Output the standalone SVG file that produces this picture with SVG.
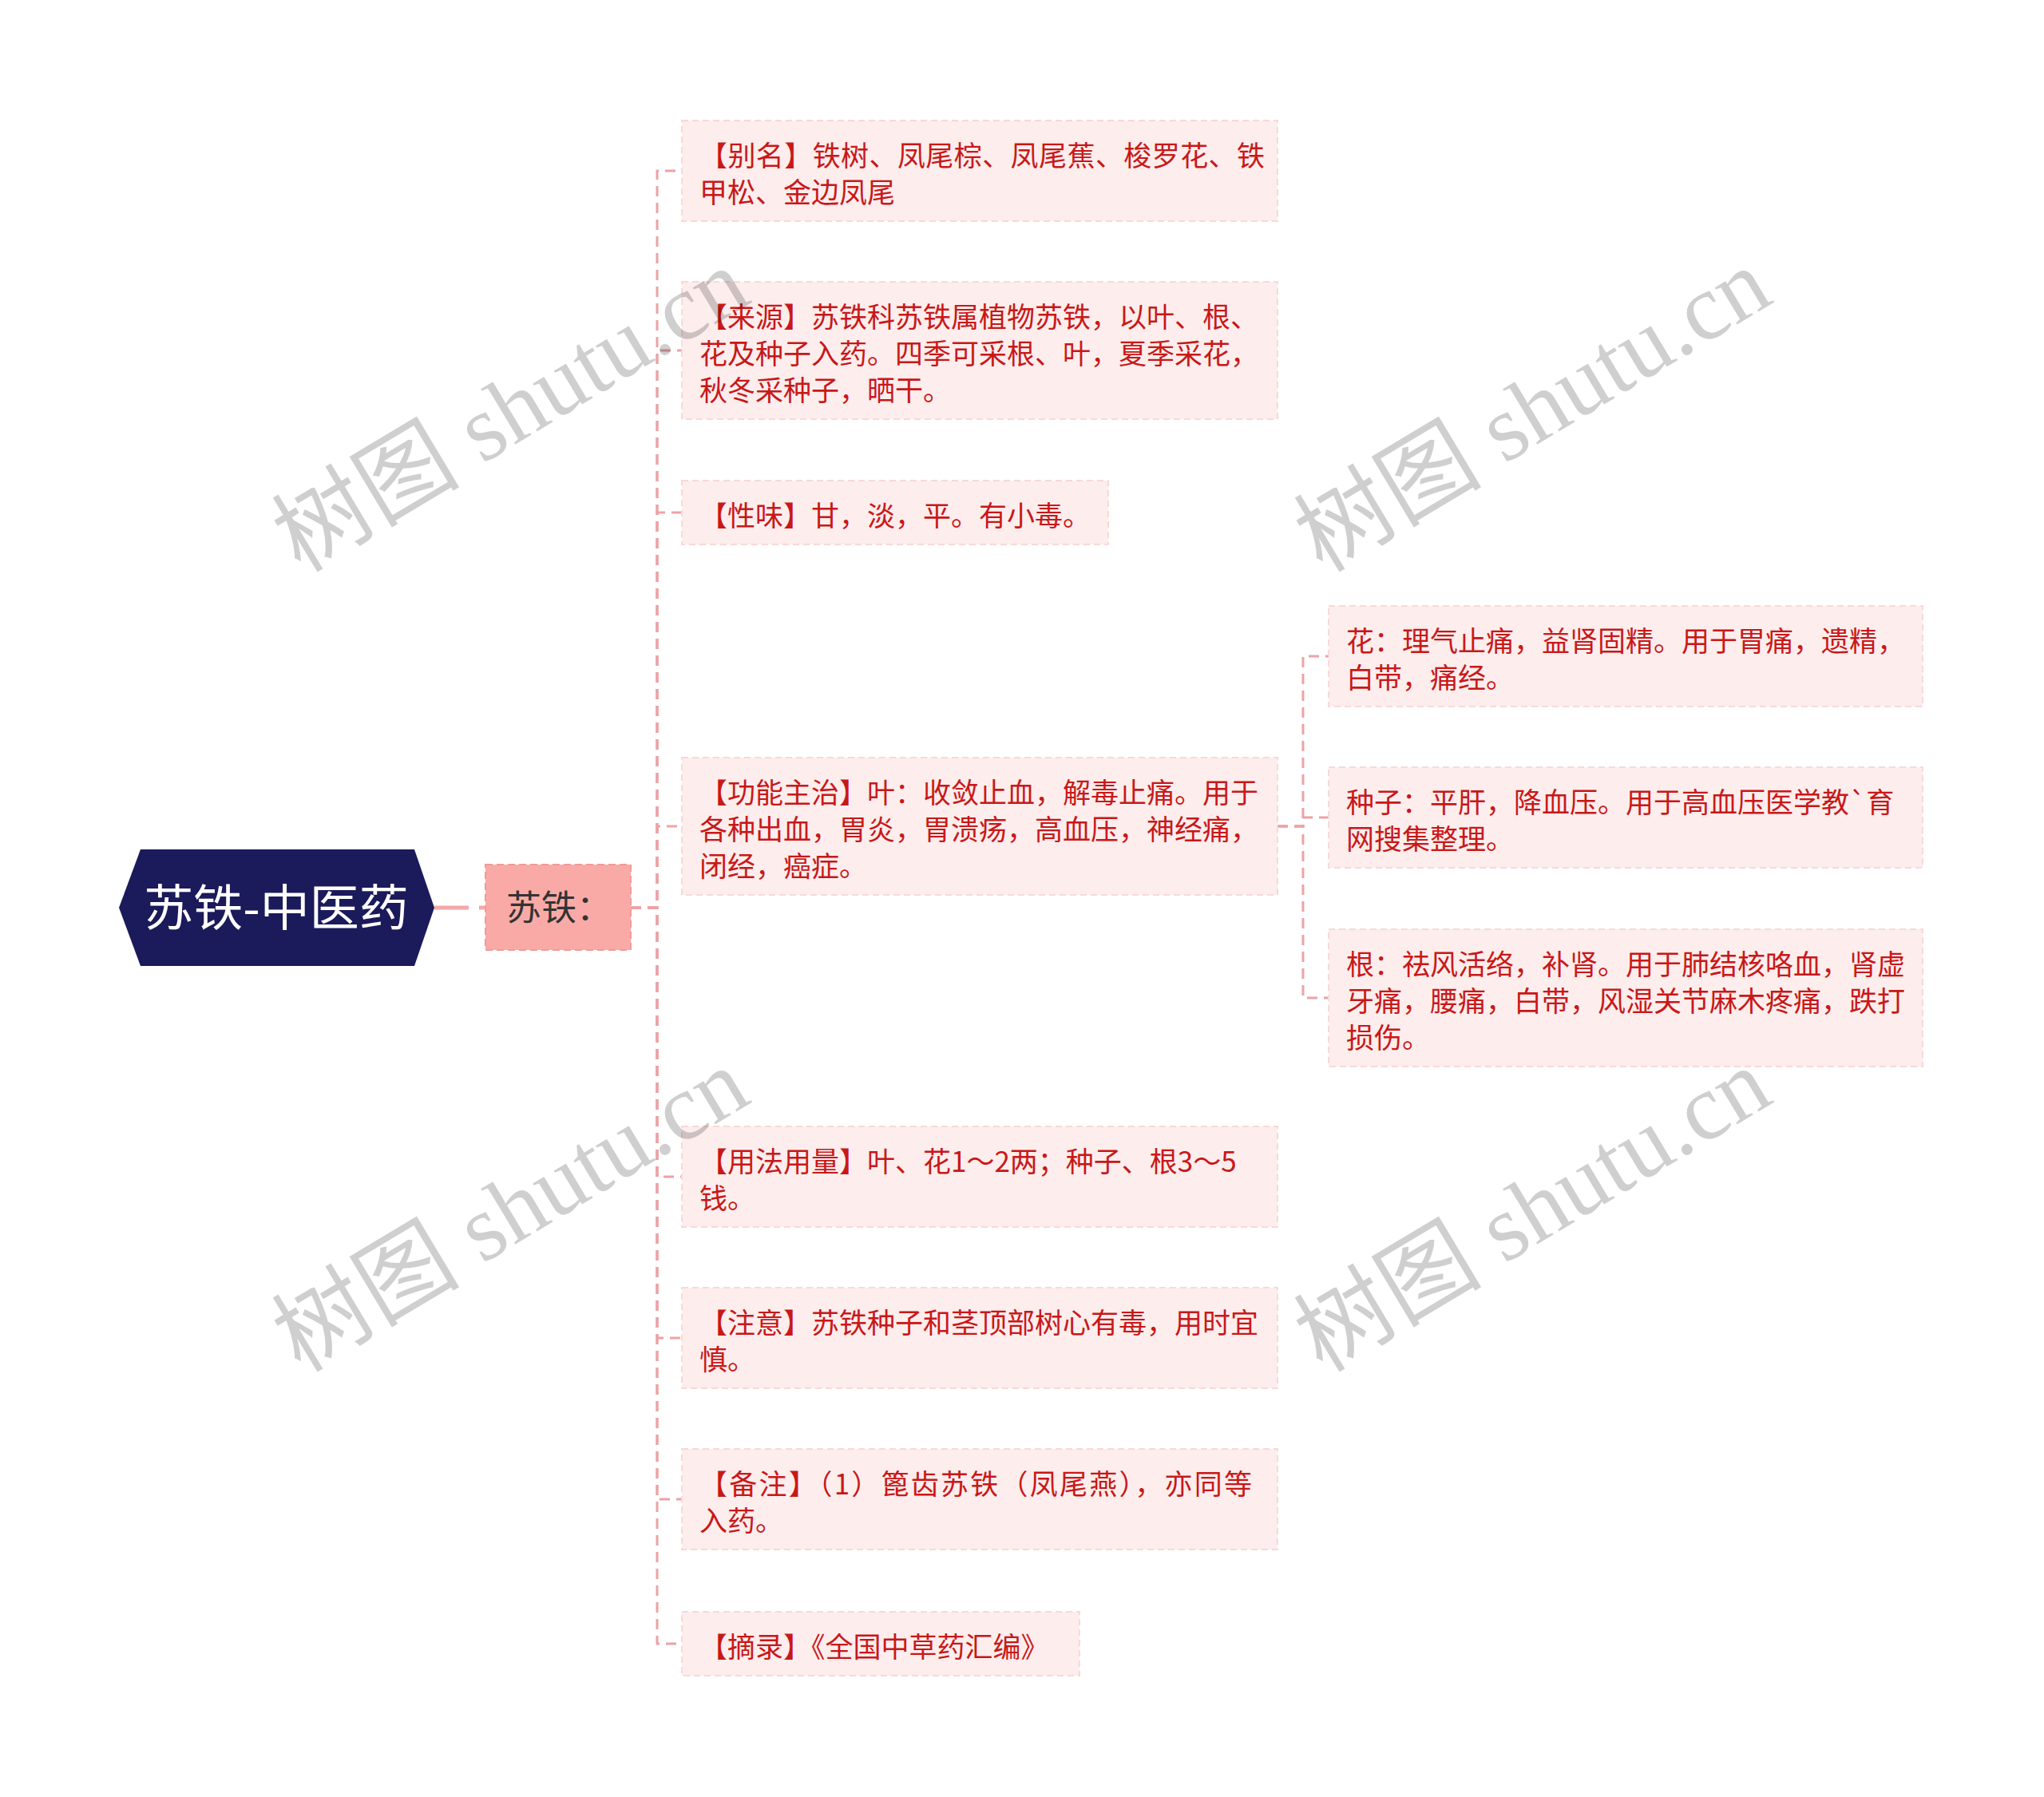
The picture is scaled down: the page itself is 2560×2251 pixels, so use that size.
<svg xmlns="http://www.w3.org/2000/svg" width="2560" height="2251" viewBox="0 0 2560 2251">
<style>
.leaf{fill:#fdeded;stroke:#f8d9d9;stroke-width:2;stroke-dasharray:8 5}
.t{font-family:"Noto Sans CJK SC","Microsoft YaHei",sans-serif;font-size:35px;fill:#c81818}
.conn{fill:none;stroke:#eca3a6;stroke-width:3;stroke-dasharray:13 8}
.wm{font-family:"Liberation Serif","Noto Sans CJK SC",serif;font-size:118px;fill:#000;fill-opacity:0.19}
</style>
<rect width="2560" height="2251" fill="#ffffff"/>
<g id="connectors">
<line x1="544" y1="1137" x2="608" y2="1137" stroke="#f4a8a8" stroke-width="5" stroke-dasharray="43 13"/>
<path class="conn" d="M790,1137 H823 V214 H854"/>
<path class="conn" d="M790,1137 H823 V439 H854"/>
<path class="conn" d="M790,1137 H823 V642 H854"/>
<path class="conn" d="M790,1137 H823 V1035 H854"/>
<path class="conn" d="M790,1137 H823 V1474 H854"/>
<path class="conn" d="M790,1137 H823 V1676 H854"/>
<path class="conn" d="M790,1137 H823 V1878 H854"/>
<path class="conn" d="M790,1137 H823 V2059 H854"/>
<path class="conn" d="M1600,1035 H1632 V822 H1664"/>
<path class="conn" d="M1600,1035 H1632 V1024 H1664"/>
<path class="conn" d="M1600,1035 H1632 V1250 H1664"/>
</g>
<g id="root">
<polygon points="149,1137 176,1064 519,1064 544,1137 519,1210 176,1210" fill="#1b1a5a"/>
<text x="346" y="1160" text-anchor="middle" font-family="Noto Sans CJK SC, Microsoft YaHei, sans-serif" font-size="62" fill="#ffffff">苏铁-中医药</text>
</g>
<g id="n-sutie">
<rect x="608" y="1083" width="182" height="107" fill="#f9aaa7" stroke="#f29a97" stroke-width="2" stroke-dasharray="9 5"/>
<text x="634" y="1153" font-family="Noto Sans CJK SC, Microsoft YaHei, sans-serif" font-size="44" fill="#333333">苏铁：</text>
</g>
<g id="n-bieming">
<rect class="leaf" x="854" y="151" width="746" height="126"/>
<text class="t" x="876" y="208" textLength="708" lengthAdjust="spacing">【别名】铁树、凤尾棕、凤尾蕉、梭罗花、铁</text>
<text class="t" x="876" y="254">甲松、金边凤尾</text>
</g>
<g id="n-laiyuan">
<rect class="leaf" x="854" y="353" width="746" height="172"/>
<text class="t" x="876" y="410">【来源】苏铁科苏铁属植物苏铁，以叶、根、</text>
<text class="t" x="876" y="456">花及种子入药。四季可采根、叶，夏季采花，</text>
<text class="t" x="876" y="502">秋冬采种子，晒干。</text>
</g>
<g id="n-xingwei">
<rect class="leaf" x="854" y="602" width="534" height="80"/>
<text class="t" x="876" y="659">【性味】甘，淡，平。有小毒。</text>
</g>
<g id="n-gongneng">
<rect class="leaf" x="854" y="949" width="746" height="172"/>
<text class="t" x="876" y="1006">【功能主治】叶：收敛止血，解毒止痛。用于</text>
<text class="t" x="876" y="1052">各种出血，胃炎，胃溃疡，高血压，神经痛，</text>
<text class="t" x="876" y="1098">闭经，癌症。</text>
</g>
<g id="n-hua">
<rect class="leaf" x="1664" y="759" width="744" height="126"/>
<text class="t" x="1686" y="816">花：理气止痛，益肾固精。用于胃痛，遗精，</text>
<text class="t" x="1686" y="862">白带，痛经。</text>
</g>
<g id="n-zhongzi">
<rect class="leaf" x="1664" y="961" width="744" height="126"/>
<text class="t" x="1686" y="1018">种子：平肝，降血压。用于高血压医学教`育</text>
<text class="t" x="1686" y="1064">网搜集整理。</text>
</g>
<g id="n-gen">
<rect class="leaf" x="1664" y="1164" width="744" height="172"/>
<text class="t" x="1686" y="1221">根：祛风活络，补肾。用于肺结核咯血，肾虚</text>
<text class="t" x="1686" y="1267">牙痛，腰痛，白带，风湿关节麻木疼痛，跌打</text>
<text class="t" x="1686" y="1313">损伤。</text>
</g>
<g id="n-yongfa">
<rect class="leaf" x="854" y="1411" width="746" height="126"/>
<text class="t" x="876" y="1468">【用法用量】叶、花1～2两；种子、根3～5</text>
<text class="t" x="876" y="1514">钱。</text>
</g>
<g id="n-zhuyi">
<rect class="leaf" x="854" y="1613" width="746" height="126"/>
<text class="t" x="876" y="1670">【注意】苏铁种子和茎顶部树心有毒，用时宜</text>
<text class="t" x="876" y="1716">慎。</text>
</g>
<g id="n-beizhu">
<rect class="leaf" x="854" y="1815" width="746" height="126"/>
<text class="t" x="876" y="1872" textLength="692" lengthAdjust="spacing">【备注】（1）篦齿苏铁（凤尾燕），亦同等</text>
<text class="t" x="876" y="1918">入药。</text>
</g>
<g id="n-zhailu">
<rect class="leaf" x="854" y="2019" width="498" height="80"/>
<text class="t" x="876" y="2076">【摘录】《全国中草药汇编》</text>
</g>
<g id="watermarks">
<text class="wm" text-anchor="middle" transform="translate(660,548) rotate(-31)">树图 shutu.cn</text>
<text class="wm" text-anchor="middle" transform="translate(1940,548) rotate(-31)">树图 shutu.cn</text>
<text class="wm" text-anchor="middle" transform="translate(660,1550) rotate(-31)">树图 shutu.cn</text>
<text class="wm" text-anchor="middle" transform="translate(1940,1550) rotate(-31)">树图 shutu.cn</text>
</g>
</svg>
